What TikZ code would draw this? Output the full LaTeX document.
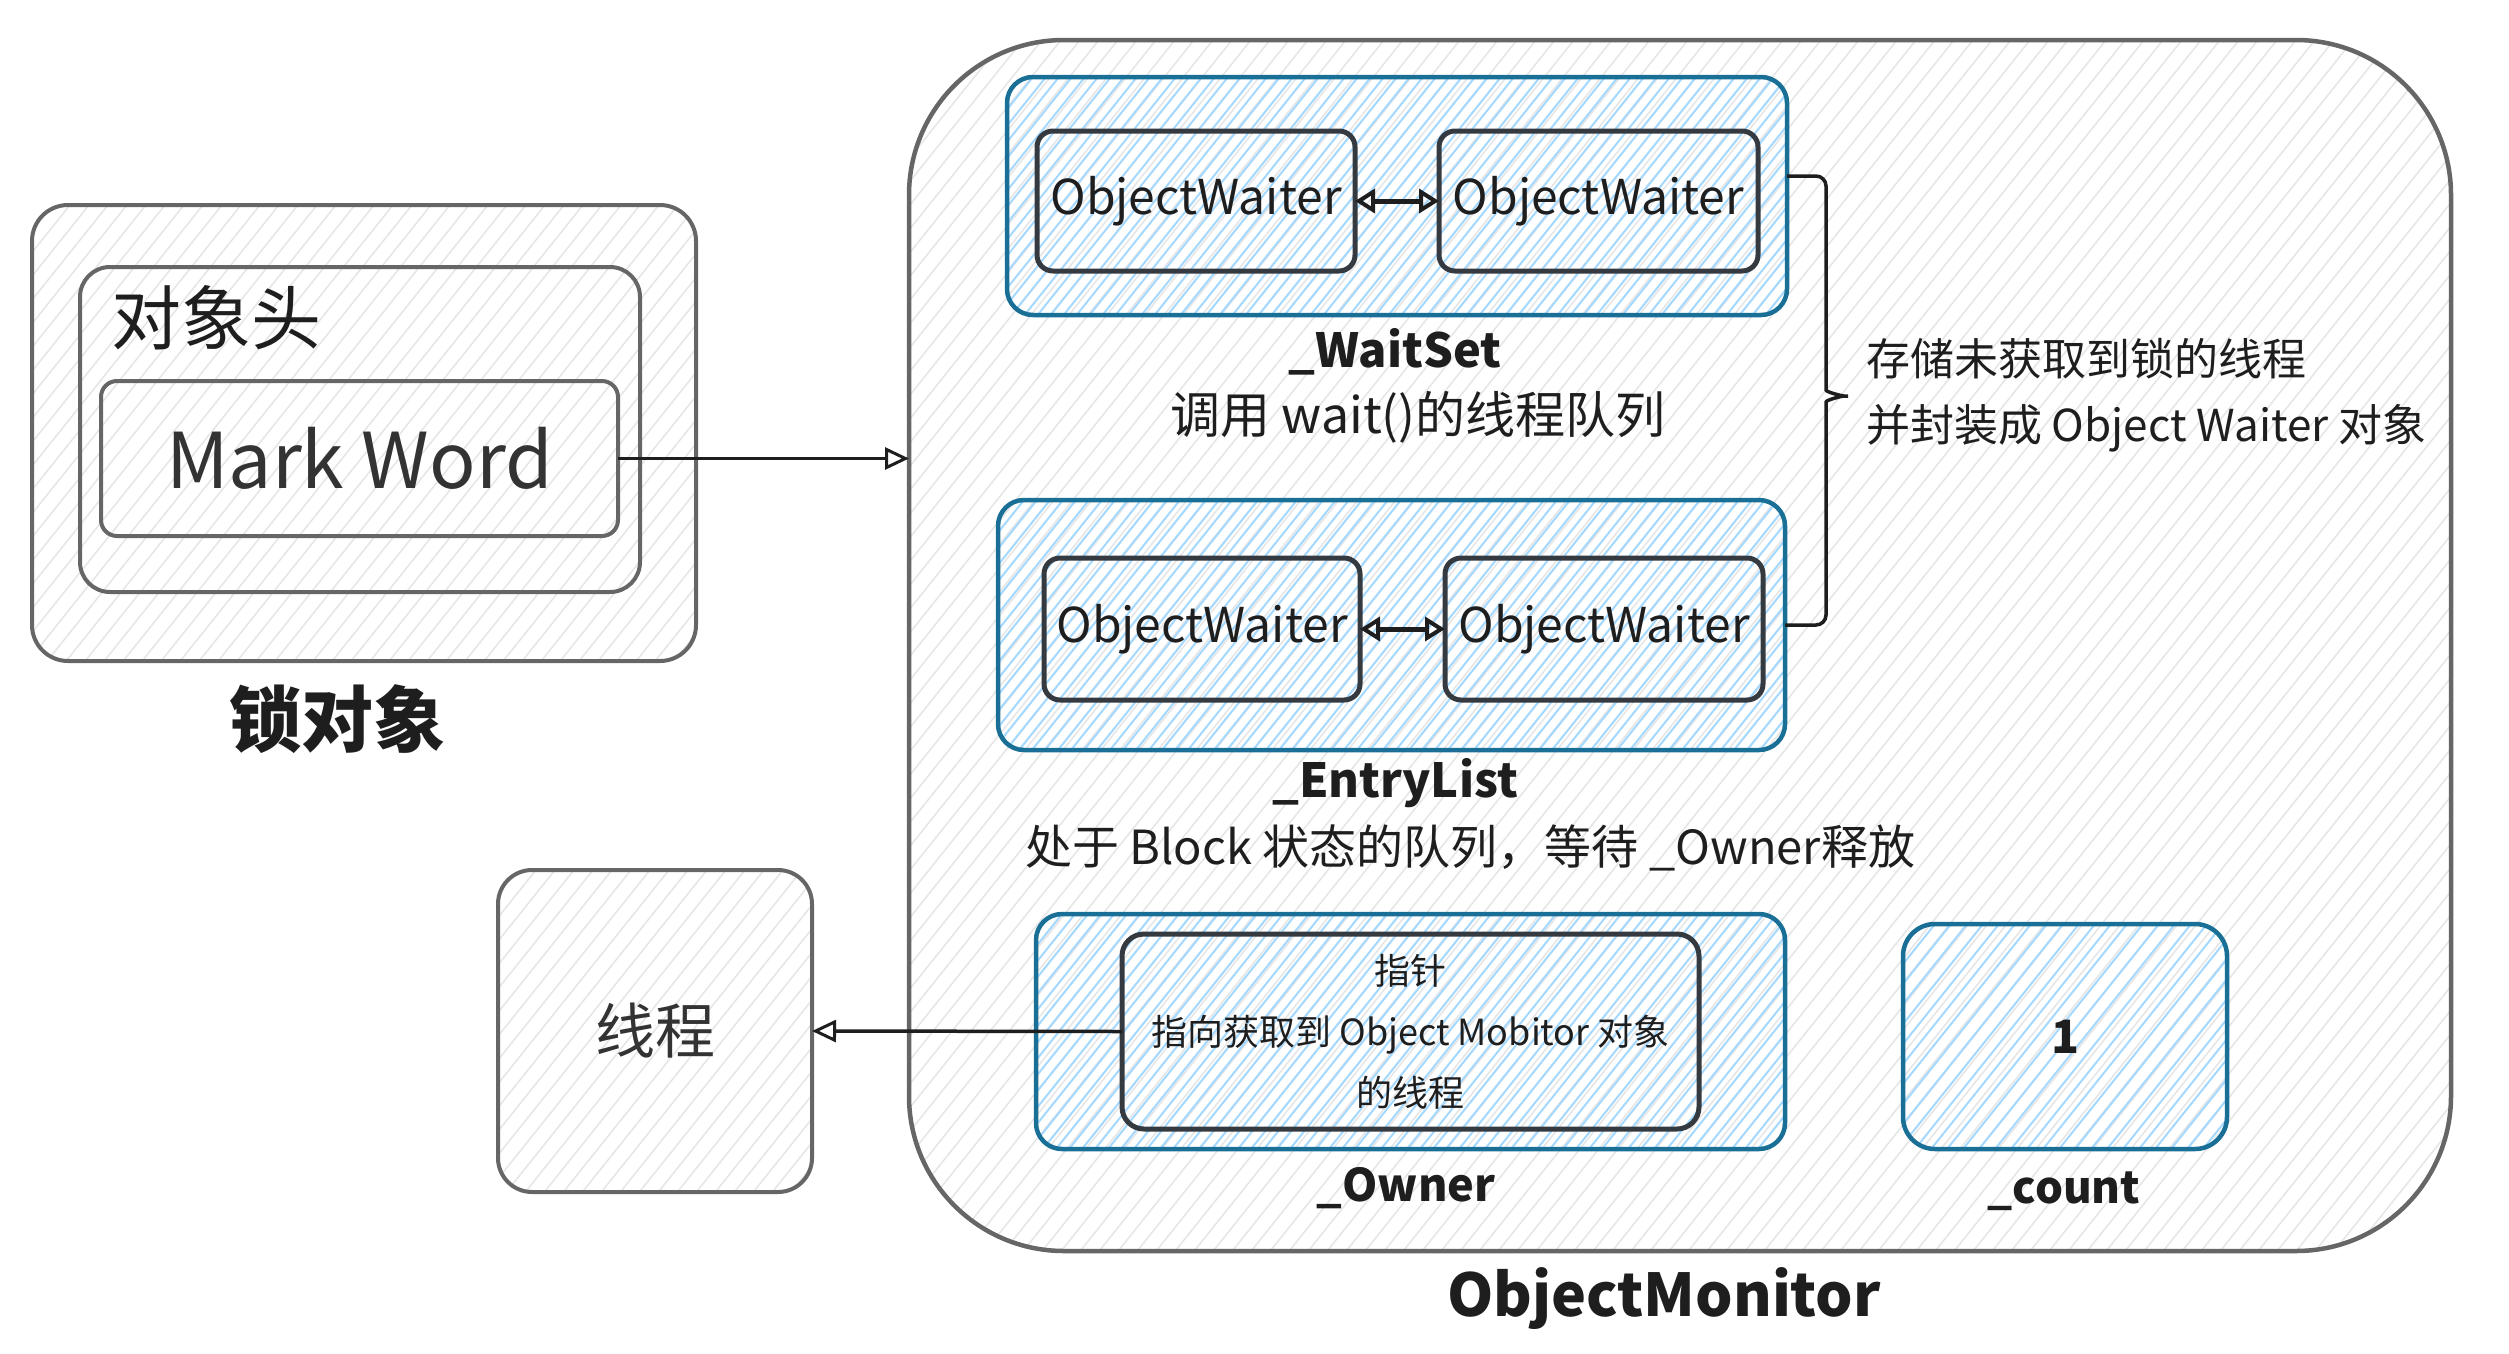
\documentclass[tikz,border=0pt]{standalone}
\usepackage{fontspec}
\setmainfont{Noto Sans CJK SC}
\usetikzlibrary{arrows.meta}
\definecolor{bluestroke}{HTML}{1A6F96}
\definecolor{bluehatch}{HTML}{A5D8FF}
\definecolor{grayhatch}{HTML}{E6E6E6}
\definecolor{graystroke}{HTML}{666666}
\definecolor{darkstroke}{HTML}{343A40}
\definecolor{ink}{HTML}{1E1E1E}
\definecolor{softink}{HTML}{333333}
\newcommand\hatchfill[7]{%
  \begin{scope}
    \clip[rounded corners=#5] (#1,#2) rectangle (#3,#4);
    \pgfmathsetmacro\hdx{(#4-#2)*0.80}%
    \pgfmathsetmacro\hsa{#1-\hdx}%
    \pgfmathsetmacro\hsb{#1-\hdx+#7}%
    \foreach \hx in {\hsa,\hsb,...,#3} {\draw[#6] (\hx,#4) -- ++(\hdx,#2-#4);}
  \end{scope}}
\begin{document}
\begin{tikzpicture}[x=1pt,y=-1pt,
  every node/.style={inner sep=0pt, outer sep=0pt},
  graybox/.style={rectangle, draw=graystroke, line width=4pt},
  bluebox/.style={rectangle, draw=bluestroke, line width=4.5pt},
  darkbox/.style={rectangle, draw=darkstroke, line width=5pt},
  txt/.style={text=ink},
  ghatch/.style={draw=grayhatch, line width=1.6pt},
  bhatch/.style={draw=bluehatch, line width=2pt},
  link/.style={draw=ink, line width=3.5pt, -{Triangle[open, length=24pt, width=22pt, line width=3pt]}},
  dlink/.style={draw=ink, line width=5pt, {Triangle[open,length=20pt,width=24pt,line width=4pt]}-{Triangle[open,length=20pt,width=24pt,line width=4pt]}},
  bracestyle/.style={draw=ink, line width=3.5pt},
]
\useasboundingbox (0,0) rectangle (2509,1353);
% hatch fills
\hatchfill{909}{40}{2451}{1251}{155pt}{ghatch}{19}
\hatchfill{32}{205}{696}{661}{36pt}{ghatch}{19}
\hatchfill{498}{870}{812}{1192}{34pt}{ghatch}{19}
\hatchfill{1007}{77}{1787}{315}{26pt}{bhatch}{13}
\hatchfill{998}{500}{1785}{750}{26pt}{bhatch}{13}
\hatchfill{1036}{914}{1785}{1149}{26pt}{bhatch}{13}
\hatchfill{1903}{924}{2227}{1149}{32pt}{bhatch}{16}
% lock object
\node[graybox, rounded corners=36pt, minimum width=664pt, minimum height=456pt] (lock) at (364,433) {};
\node[graybox, rounded corners=30pt, minimum width=560pt, minimum height=325pt] (hdr) at (360,429.5) {};
\node[graybox, rounded corners=16pt, minimum width=517pt, minimum height=155pt, text=softink, font=\fontsize{77pt}{84pt}\selectfont] (mw) at (359.5,458.5) {Mark Word};
\node[txt, font=\fontsize{70pt}{76pt}\selectfont] (hdrlabel) at (216,318) {对象头};
\node[txt, font=\fontsize{72pt}{78pt}\selectfont\bfseries] (locklabel) at (337,719) {锁对象};
% monitor
\node[rectangle, draw=graystroke, line width=4.5pt, rounded corners=155pt, minimum width=1542pt, minimum height=1211pt] (mon) at (1680,645.5) {};
\node[txt, font=\fontsize{59pt}{66pt}\selectfont\bfseries] (monlabel) at (1664,1298) {ObjectMonitor};
% wait set
\node[bluebox, rounded corners=26pt, minimum width=780pt, minimum height=238pt] (ws) at (1397,196) {};
\node[darkbox, rounded corners=16pt, minimum width=318pt, minimum height=140pt, txt, font=\fontsize{48pt}{54pt}\selectfont] (ow1) at (1196,201) {ObjectWaiter};
\node[darkbox, rounded corners=16pt, minimum width=319pt, minimum height=140pt, txt, font=\fontsize{48pt}{54pt}\selectfont] (ow2) at (1598.5,201) {ObjectWaiter};
\node[txt, font=\fontsize{47pt}{53pt}\selectfont\bfseries] (wslabel) at (1395,352) {\_WaitSet};
\node[txt, font=\fontsize{50pt}{56pt}\selectfont] (wsdesc) at (1418,417) {调用 wait()的线程队列};
% entry list
\node[bluebox, rounded corners=26pt, minimum width=787pt, minimum height=250pt] (el) at (1391.5,625) {};
\node[darkbox, rounded corners=16pt, minimum width=316pt, minimum height=142pt, txt, font=\fontsize{48pt}{54pt}\selectfont] (ow3) at (1202,629) {ObjectWaiter};
\node[darkbox, rounded corners=16pt, minimum width=318pt, minimum height=142pt, txt, font=\fontsize{48pt}{54pt}\selectfont] (ow4) at (1604,629) {ObjectWaiter};
\node[txt, font=\fontsize{47pt}{53pt}\selectfont\bfseries] (ellabel) at (1395,783) {\_EntryList};
\node[txt, font=\fontsize{47pt}{53pt}\selectfont] (eldesc) at (1470,848) {处于 Block 状态的队列，等待 \_Owner释放};
% side note
\node[txt, anchor=west, align=left, font=\fontsize{44pt}{66pt}\selectfont] (note) at (1866,395) {存储未获取到锁的线程\\并封装成 Object Waiter 对象};
% owner
\node[bluebox, rounded corners=26pt, minimum width=749pt, minimum height=235pt] (own) at (1410.5,1031.5) {};
\node[darkbox, rounded corners=22pt, minimum width=577pt, minimum height=195pt, txt, align=center, font=\fontsize{36pt}{61pt}\selectfont] (ptr) at (1410.5,1031.5) {指针\\指向获取到 Object Mobitor 对象\\的线程};
\node[txt, font=\fontsize{45pt}{51pt}\selectfont\bfseries] (ownlabel) at (1406,1188) {\_Owner};
% count
\node[bluebox, rounded corners=32pt, minimum width=324pt, minimum height=225pt, txt, font=\fontsize{46pt}{52pt}\selectfont\bfseries] (cnt) at (2065,1036.5) {1};
\node[txt, font=\fontsize{44pt}{50pt}\selectfont\bfseries] (cntlabel) at (2064,1191) {\_count};
% thread
\node[graybox, rounded corners=34pt, minimum width=314pt, minimum height=322pt, text=softink, font=\fontsize{60pt}{66pt}\selectfont] (thr) at (655,1031) {线程};
% connectors
\draw[link] (mw.east) -- (mw.east -| mon.west);
\draw[link] (ptr.west) -- (thr.east);
\draw[dlink] (ow1.east) -- (ow2.west);
\draw[dlink] (ow3.east) -- (ow4.west);
\coordinate (brtop) at (1826,176);
\coordinate (brtip) at (1854,396);
\coordinate (brbot) at (1826,625);
\draw[bracestyle, rounded corners=10pt] ([yshift=20pt]ws.east) -- (brtop) -- (1826,380) .. controls (1826,392) and (1842,396) .. (brtip) .. controls (1842,396) and (1826,400) .. (1826,412) -- (brbot) -- (el.east);
\end{tikzpicture}
\end{document}
